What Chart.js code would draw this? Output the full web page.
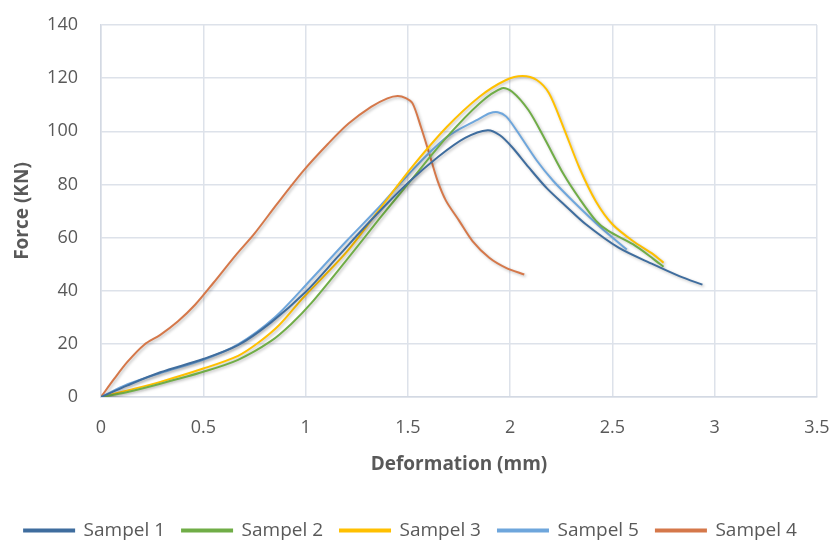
<!DOCTYPE html>
<html>
<head>
<meta charset="utf-8">
<script src="https://cdn.jsdelivr.net/npm/chart.js@4.4.0/dist/chart.umd.min.js"></script>
<style>
html,body{margin:0;padding:0;background:#fff;}
#wrap{width:834px;height:540px;position:relative;}
</style>
</head>
<body>
<div id="wrap"><canvas id="c" width="834" height="540"></canvas></div>
<script>
// ---- data ----
const s1X = [0, 0.13, 0.29, 0.5, 0.67, 0.83, 1.0, 1.16, 1.32, 1.5, 1.65, 1.78, 1.89, 1.95, 2.01, 2.09, 2.18, 2.27, 2.37, 2.53, 2.7, 2.83, 2.94];
const s1Y = [0, 4.4, 9.3, 14.3, 19.5, 28, 39.5, 53, 66.5, 80.5, 90.5, 97.5, 100.4, 98.5, 94, 86.5, 78.5, 72, 65, 56.2, 49.9, 45.4, 42.3];

const s2X = [0, 0.13, 0.29, 0.5, 0.67, 0.83, 0.93, 1.03, 1.2, 1.36, 1.52, 1.69, 1.85, 1.96, 2.01, 2.09, 2.17, 2.26, 2.34, 2.42, 2.48, 2.6, 2.7, 2.75];
const s2Y = [0, 1.9, 5, 9.5, 14, 21, 27.5, 35.5, 51.5, 67, 82, 97.8, 110.5, 116.2, 114.9, 107.9, 97, 84, 74.5, 66.3, 62.5, 57.5, 52, 49];

const s3X = [0, 0.13, 0.29, 0.5, 0.67, 0.77, 0.87, 0.99, 1.2, 1.36, 1.52, 1.69, 1.85, 1.98, 2.06, 2.13, 2.19, 2.26, 2.34, 2.42, 2.5, 2.6, 2.7, 2.75];
const s3Y = [0, 2.5, 5.7, 10.7, 15.5, 20.5, 27, 37.5, 54.5, 70.5, 86.5, 101.6, 113, 119.3, 120.8, 119.3, 114.3, 101.6, 86, 73.5, 65, 58.7, 53.7, 50.5];

const s5X = [0, 0.13, 0.29, 0.5, 0.67, 0.85, 1.03, 1.2, 1.36, 1.52, 1.69, 1.85, 1.9, 1.94, 1.98, 2.03, 2.13, 2.21, 2.31, 2.44, 2.57];
const s5Y = [0, 4.8, 9, 14, 19.8, 30, 44.5, 58.7, 71.5, 85.2, 97.8, 104.8, 106.8, 107.2, 105.6, 100.5, 89, 81.4, 73.5, 64, 55.5];

const s4X = [0, 0.065, 0.13, 0.21, 0.29, 0.375, 0.46, 0.55, 0.66, 0.75, 0.86, 0.99, 1.11, 1.21, 1.32, 1.4, 1.45, 1.49, 1.523, 1.564, 1.605, 1.645, 1.686, 1.751, 1.816, 1.898, 1.98, 2.069];
const s4Y = [0, 6.9, 13.3, 19.6, 23.4, 28.4, 34.7, 43, 53.5, 61.5, 72.6, 85.2, 95.3, 102.9, 109.2, 112.4, 113.3, 112.5, 110.5, 101.6, 91.5, 81.4, 73.9, 66.3, 58.7, 52.4, 48.6, 46.1];

const seriesNames = ['Sampel 1', 'Sampel 2', 'Sampel 3', 'Sampel 5', 'Sampel 4'];
const xTicks = [0, 0.5, 1, 1.5, 2, 2.5, 3, 3.5];
const yTicks = [0, 20, 40, 60, 80, 100, 120, 140];
const xTitle = 'Deformation (mm)';
const yTitle = 'Force (KN)';

// ---- styling ----
const colors = ['#3f6d9e', '#70ad47', '#ffc000', '#6ea6dc', '#d5784a'];
const txt = '#595959';
const FONT = "'Open Sans', 'DejaVu Sans', sans-serif";

function pts(xs, ys){ return xs.map((x,i)=>({x:x, y:ys[i]})); }
const allX = [s1X, s2X, s3X, s5X, s4X];
const allY = [s1Y, s2Y, s3Y, s5Y, s4Y];

const datasets = seriesNames.map((n,i)=>({
  label: n,
  data: pts(allX[i], allY[i]),
  borderColor: colors[i],
  backgroundColor: colors[i],
  borderWidth: 2,
  pointRadius: 0,
  tension: 0.3,
  fill: false
}));

const shadow = {
  id: 'shadow',
  beforeDatasetsDraw(chart){
    const ctx = chart.ctx;
    ctx.save();
    ctx.shadowColor = 'rgba(0,0,0,0.25)';
    ctx.shadowBlur = 3;
    ctx.shadowOffsetX = 1.5;
    ctx.shadowOffsetY = 1.5;
  },
  afterDatasetsDraw(chart){ chart.ctx.restore(); }
};

function zeroPad(s){ s.paddingLeft = 0; s.paddingRight = 0; s.paddingTop = 0; s.paddingBottom = 0; }

new Chart(document.getElementById('c'), {
  type: 'line',
  data: { datasets },
  plugins: [shadow],
  options: {
    responsive: false,
    animation: false,
    layout: { padding: { left: 4, right: 17, top: 25, bottom: -10 } },
    plugins: {
      legend: {
        position: 'bottom',
        labels: {
          boxWidth: 50, boxHeight: 2,
          padding: 17,
          color: txt,
          font: { family: FONT, size: 19 }
        }
      },
      tooltip: { enabled: false }
    },
    scales: {
      x: {
        type: 'linear',
        min: 0, max: 3.5,
        afterBuildTicks: s => { s.ticks = xTicks.map(v=>({value:v})); },
        afterFit: s => { s.height = 107; zeroPad(s); },
        ticks: { color: txt, padding: 20, font: { family: FONT, size: 18 }, maxRotation: 0, callback: v => String(v) },
        grid: { color: '#dde2ea', lineWidth: 1.5, drawTicks: false },
        border: { color: '#d3d9e3', width: 1.5 },
        title: { display: true, text: xTitle, color: txt, font: { family: FONT, size: 19, weight: 'bold' }, padding: { top: 0, bottom: 28 } }
      },
      y: {
        min: 0, max: 140,
        afterBuildTicks: s => { s.ticks = yTicks.map(v=>({value:v})); },
        afterFit: s => { s.width = 97; zeroPad(s); },
        ticks: { color: txt, padding: 23, font: { family: FONT, size: 18 }, callback: v => String(v) },
        grid: { color: '#dde2ea', lineWidth: 1.5, drawTicks: false },
        border: { color: '#d3d9e3', width: 1.5 },
        title: { display: true, text: yTitle, color: txt, font: { family: FONT, size: 19, weight: 'bold' }, padding: { top: 7, bottom: 0 } }
      }
    }
  }
});
</script>
</body>
</html>
